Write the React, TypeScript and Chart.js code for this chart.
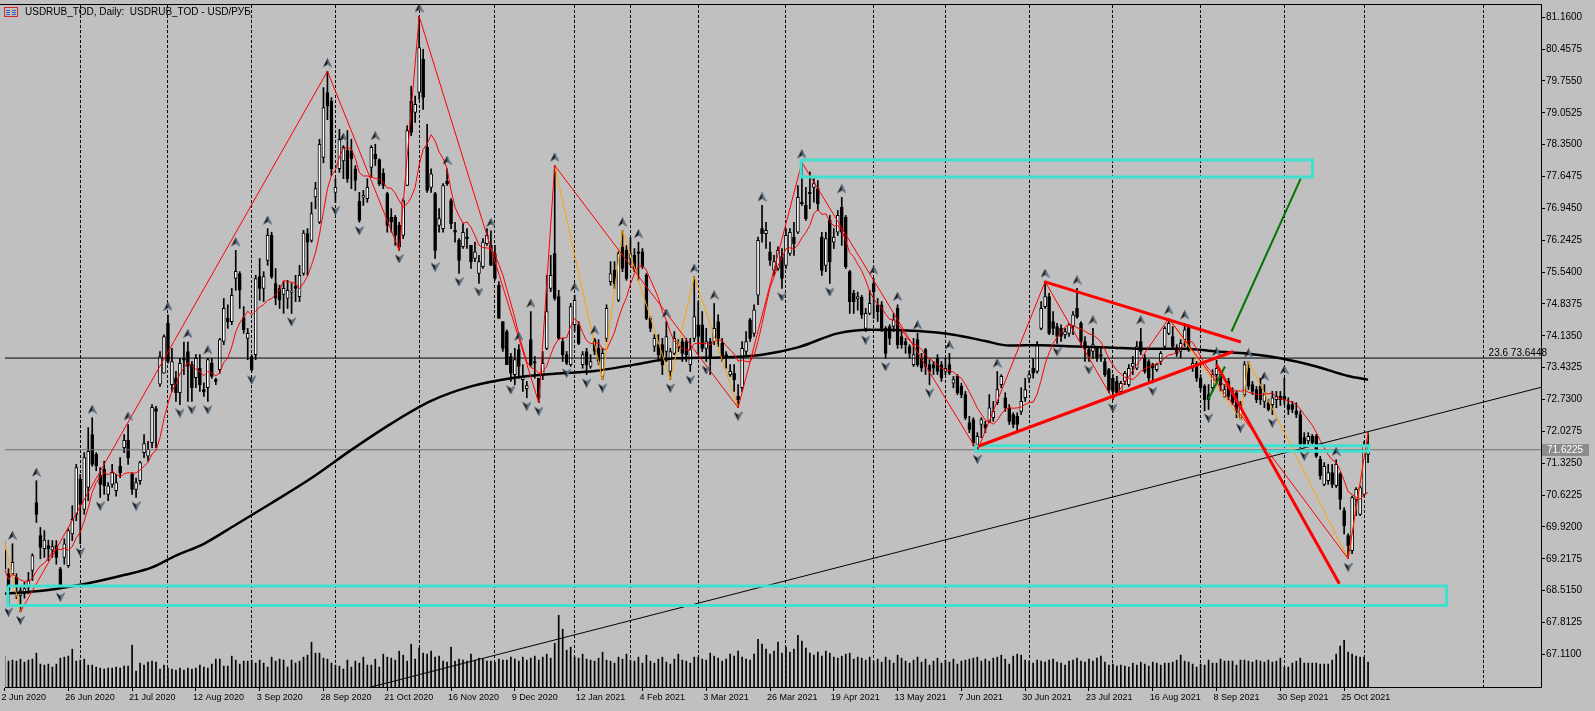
import React, { useEffect, useRef } from "react";
import { Chart, registerables } from "chart.js";
Chart.register(...registerables);

// ---------- data (bar index 0 = 2 Jun 2020) ----------
const opens = [
69.40,68.89,68.89,68.81,68.41,68.45,68.59,68.96,70.46,69.73,
69.44,69.51,69.41,69.51,69.00,69.25,69.07,69.77,70.20,70.97,
70.31,70.79,71.96,71.52,71.05,71.19,70.64,70.86,70.72,71.26,
71.67,71.83,71.08,70.75,70.94,71.56,71.48,71.78,72.53,73.07,
73.31,74.41,73.06,73.21,72.88,73.64,73.79,73.50,73.21,73.42,
72.95,72.99,73.53,73.17,73.39,74.01,74.52,74.45,75.40,75.51,
74.54,74.08,73.68,73.72,75.44,75.18,75.80,76.35,75.29,75.18,
75.05,74.96,75.10,75.23,75.00,75.51,76.39,76.24,77.20,76.64,
78.07,79.50,79.31,77.30,77.82,77.99,78.22,78.22,77.82,77.10,
77.19,77.16,77.85,78.14,78.02,77.72,77.27,76.75,76.75,76.57,
76.35,77.45,79.31,79.06,79.50,80.23,78.29,77.41,77.27,76.57,
76.50,77.54,77.12,76.46,76.24,76.10,76.32,76.13,75.84,75.51,
75.66,76.17,76.13,75.95,75.25,74.45,74.23,73.68,73.28,73.83,
73.17,72.97,74.05,73.57,73.20,73.28,73.86,75.18,75.95,75.00,
74.01,73.72,73.50,74.38,74.38,73.50,73.79,73.46,74.05,73.86,
73.24,74.08,75.33,75.58,74.92,76.09,76.02,75.84,75.91,75.99,
75.99,75.47,74.52,73.90,73.94,73.94,73.79,73.35,73.75,73.90,
74.01,74.01,73.50,74.08,74.38,74.38,73.86,74.01,74.01,74.45,
73.97,73.72,73.28,73.31,72.80,72.99,73.79,74.49,74.19,75.03,
76.50,76.39,75.99,75.58,75.62,75.88,75.69,75.95,76.31,76.42,
77.08,77.01,77.30,77.41,77.38,76.31,75.69,76.68,76.20,76.42,
76.97,76.75,75.55,75.07,74.95,74.99,74.30,74.63,75.29,74.82,
74.82,74.30,74.34,74.34,74.74,74.12,74.01,73.90,73.50,74.05,
73.64,73.83,73.50,73.50,73.64,73.50,73.35,73.50,73.09,73.24,
73.02,72.84,72.22,72.29,71.74,72.18,72.18,72.25,72.33,72.66,
73.06,72.77,72.55,72.40,72.36,72.47,72.77,73.20,73.42,73.35,
74.30,74.78,75.00,74.45,74.34,74.30,74.16,74.19,74.34,74.74,
74.41,74.01,73.83,73.79,73.86,73.72,73.57,73.39,73.20,73.13,
72.91,73.13,73.06,73.46,73.42,74.01,73.65,73.57,73.50,73.39,
73.57,73.90,74.19,74.12,73.86,73.79,74.05,74.34,73.46,73.53,
73.20,73.02,72.84,72.99,73.28,73.28,72.80,73.13,72.91,72.88,
72.33,72.84,73.42,73.06,72.95,73.02,72.69,72.66,72.62,72.73,
72.80,72.80,72.62,72.62,72.48,72.40,71.89,71.82,71.92,71.92,
71.41,70.86,70.94,71.12,70.83,71.08,70.28,69.73,69.40,70.53,
70.20,70.64,71.52];

const highs = [
69.60,69.00,69.55,68.89,68.63,68.70,68.92,69.33,70.94,69.91,
69.84,69.63,69.62,69.62,69.03,69.66,69.88,70.39,71.30,71.08,
71.56,72.11,72.33,71.56,71.23,71.37,70.90,71.30,71.08,71.45,
71.96,72.18,71.12,71.00,71.37,71.96,71.81,72.62,72.58,73.79,
74.16,74.60,73.86,73.35,73.64,74.00,74.00,73.57,73.72,73.72,
73.10,73.64,73.64,73.20,74.08,74.96,74.82,75.18,76.02,75.55,
74.78,74.30,73.72,75.47,75.84,75.55,76.50,76.42,75.62,75.25,
75.33,75.36,75.29,75.47,75.69,76.46,76.50,77.08,77.52,78.47,
79.61,79.97,79.39,77.60,78.69,78.33,78.66,78.47,77.89,77.30,
77.34,77.60,78.33,78.36,78.04,77.82,77.30,76.94,76.79,76.64,
77.16,78.77,79.64,79.42,81.18,80.45,78.80,77.82,77.30,76.94,
77.49,77.82,77.16,76.64,76.28,76.61,76.50,76.13,76.20,75.91,
76.28,76.50,76.45,76.13,75.33,74.45,74.27,73.75,73.86,73.94,
73.50,73.13,74.67,73.68,73.20,73.79,75.47,75.91,77.89,75.14,
74.08,73.79,74.85,75.03,74.45,73.79,73.86,73.72,74.08,74.05,
73.86,74.82,75.77,75.77,75.99,76.46,76.13,76.30,76.06,76.20,
76.06,75.51,74.56,74.16,74.16,74.08,74.45,73.86,74.23,74.05,
74.08,74.08,74.08,75.44,74.89,74.67,74.30,74.08,74.85,74.60,
74.08,73.79,73.50,73.50,73.06,74.01,74.23,74.52,74.82,76.31,
77.01,76.64,76.20,75.91,76.10,76.06,76.50,76.50,76.64,77.45,
77.96,77.41,77.75,77.60,77.56,76.42,76.42,76.79,76.50,76.90,
77.19,76.79,75.58,75.14,75.10,75.03,74.74,75.14,75.40,74.96,
74.89,74.34,74.38,74.63,74.82,74.23,74.08,73.94,74.08,74.19,
73.75,73.86,73.61,73.57,73.72,73.57,73.64,73.75,73.24,73.28,
73.09,72.91,72.36,72.33,72.00,72.33,72.25,72.84,72.69,73.35,
73.28,72.88,72.62,72.44,72.44,72.99,73.20,73.35,73.64,74.01,
74.89,75.33,75.07,74.67,74.41,74.38,74.30,74.41,74.67,75.18,
74.45,74.12,73.90,74.30,73.90,73.86,73.64,73.42,73.28,73.24,
73.13,73.35,73.50,73.68,74.01,74.30,73.72,73.61,73.53,73.53,
73.79,74.34,74.52,74.34,73.94,74.05,74.41,74.38,73.64,73.57,
73.28,73.06,73.06,73.39,73.60,73.35,73.06,73.20,72.99,72.91,
72.69,73.57,73.57,73.13,73.02,73.20,73.06,72.73,72.91,72.91,
72.91,73.20,72.77,72.69,72.66,72.48,72.00,72.00,71.96,71.96,
71.48,71.34,71.30,71.30,71.40,71.12,70.35,69.77,70.60,70.79,
70.83,71.81,72.00];

const lows = [
68.95,68.23,68.85,68.34,68.05,68.35,68.45,68.74,70.02,69.22,
69.25,69.18,69.25,69.10,68.56,69.10,69.03,69.62,70.06,69.55,
70.20,70.50,71.26,71.16,70.57,70.64,70.50,70.79,70.60,71.01,
71.56,71.30,70.64,70.57,70.86,71.45,71.37,71.67,71.67,73.02,
73.31,73.53,72.91,72.69,72.62,73.28,72.69,72.69,72.99,72.91,
72.80,72.69,73.20,73.06,73.31,73.94,74.30,74.38,75.14,74.74,
74.19,73.61,73.35,73.61,74.92,74.89,75.69,75.40,74.82,74.74,
74.63,74.74,74.63,74.89,74.89,75.47,75.47,76.20,76.94,76.61,
77.95,78.90,77.67,77.08,77.74,77.60,77.52,77.38,77.34,76.64,
77.01,77.08,77.63,77.89,77.45,77.38,76.42,76.42,76.13,76.02,
76.28,77.45,78.55,78.84,79.35,79.13,77.30,77.30,75.84,76.42,
76.42,77.45,76.50,76.20,75.51,76.06,76.06,75.62,75.77,75.29,
75.62,76.13,75.69,75.36,74.52,73.79,73.50,73.13,73.06,73.20,
72.91,72.77,73.46,73.20,72.66,73.17,73.83,75.11,74.92,74.05,
73.57,73.50,73.46,74.23,73.94,73.42,73.28,73.42,73.72,73.50,
73.17,74.01,75.25,75.18,74.89,75.55,75.36,75.69,75.55,75.36,
75.62,74.49,74.23,73.79,73.57,73.28,73.57,73.17,73.72,73.79,
73.57,73.57,73.35,74.01,73.72,73.79,73.57,73.28,73.94,73.90,
73.57,73.42,73.24,72.91,72.55,72.91,73.72,74.01,74.12,74.82,
76.20,76.06,75.69,75.47,75.58,75.18,75.62,75.91,75.91,76.39,
77.01,76.68,76.94,77.08,76.90,75.47,75.55,75.29,76.06,76.35,
76.13,75.62,74.63,74.63,74.70,74.52,74.23,74.60,74.52,74.45,
74.23,73.64,73.94,74.23,73.86,73.86,73.75,73.64,73.46,73.46,
73.35,73.28,73.06,73.28,73.28,73.13,73.28,73.28,72.99,72.84,
72.77,72.29,72.00,71.71,71.60,71.89,72.00,72.22,72.25,72.62,
72.99,72.47,72.18,72.11,72.04,72.40,72.69,73.10,73.20,73.31,
74.27,74.74,74.16,74.16,73.97,74.01,74.08,74.12,74.16,74.52,
73.94,73.57,73.57,73.64,73.57,73.57,73.24,72.88,72.73,72.84,
72.84,73.06,73.02,73.28,73.39,73.72,73.31,73.13,73.10,73.35,
73.50,73.86,74.16,73.86,73.68,73.65,73.90,73.79,73.35,73.13,
72.91,72.48,72.51,72.91,73.13,72.91,72.77,72.73,72.62,72.33,
72.29,72.80,72.95,72.84,72.66,72.62,72.55,72.48,72.40,72.55,
72.60,72.62,72.40,72.44,72.33,71.67,71.67,71.74,71.74,71.45,
70.97,70.83,70.86,70.79,70.79,70.31,69.77,69.22,69.33,70.17,
70.17,70.60,71.34];

const closes = [
69.00,68.52,69.14,68.59,68.52,68.56,68.74,69.29,70.20,69.47,
69.63,69.44,69.49,69.25,68.59,69.55,69.84,70.09,71.23,70.42,
71.45,71.59,71.30,71.27,70.86,70.83,70.83,71.12,70.90,71.12,
71.83,71.45,70.75,70.90,71.34,71.76,71.63,72.56,72.47,73.68,
74.12,73.57,73.57,72.88,73.53,73.60,73.46,72.99,73.64,73.06,
72.90,73.61,73.24,73.13,74.05,74.74,74.45,75.03,75.56,75.14,
74.27,74.19,73.39,75.40,75.18,75.44,76.35,75.44,74.96,74.92,
75.18,75.14,75.12,75.18,75.47,76.40,76.20,76.83,77.38,78.36,
79.17,79.20,77.82,77.41,78.47,78.29,77.60,78.04,77.56,76.68,
77.23,77.41,78.29,78.04,77.49,77.45,76.57,76.64,76.35,76.09,
77.12,78.66,78.62,79.24,80.49,79.39,77.34,77.71,76.02,76.72,
77.45,77.49,76.61,76.42,75.80,76.42,76.28,75.77,75.99,75.77,
76.20,76.35,75.69,75.40,74.52,73.86,73.50,73.31,73.61,73.46,
73.24,73.04,73.50,73.53,72.77,73.53,74.67,75.47,74.96,74.08,
73.72,73.53,74.78,74.92,73.97,73.72,73.50,73.57,73.79,73.57,
73.75,74.74,75.51,75.29,75.95,75.62,75.40,75.95,75.62,75.95,
75.66,74.52,74.30,74.08,73.72,73.50,74.12,73.79,74.08,73.86,
73.75,73.72,73.83,74.56,74.12,73.86,74.01,73.65,74.30,74.08,
73.65,73.68,73.35,73.17,72.73,73.86,74.01,74.08,74.71,76.24,
76.39,76.46,75.80,75.77,76.02,75.40,76.35,76.42,76.17,77.19,
77.05,76.72,77.27,77.49,77.05,75.58,76.28,75.77,76.31,76.79,
76.42,75.66,74.89,74.89,75.00,74.60,74.63,74.85,75.11,74.67,
74.30,73.75,74.08,74.49,73.94,73.94,73.94,73.75,73.72,73.50,
73.42,73.46,73.35,73.42,73.35,73.20,73.42,73.31,73.17,72.88,
72.84,72.33,72.07,71.78,71.92,72.29,72.11,72.55,72.47,72.95,
73.24,72.55,72.25,72.18,72.18,72.69,72.95,73.28,73.31,73.94,
74.74,75.00,74.19,74.30,74.12,74.12,74.23,74.38,74.60,74.56,
74.01,73.86,73.68,73.94,73.65,73.68,73.28,72.95,72.91,72.88,
73.09,73.31,73.42,73.53,73.90,73.79,73.35,73.20,73.42,73.50,
73.75,74.30,74.41,73.90,73.75,73.97,74.27,73.83,73.53,73.20,
72.99,72.73,72.73,73.28,73.42,73.06,72.95,72.80,72.66,72.51,
72.62,73.50,73.02,72.91,72.73,72.73,72.84,72.51,72.77,72.80,
72.73,72.73,72.51,72.51,72.40,71.74,71.74,71.92,71.78,71.48,
71.05,71.26,71.12,70.86,71.30,70.53,69.95,69.51,70.57,70.75,
70.79,71.70,71.62];

const volumes = [
31,26,27,26,28,25,27,28,34,23,22,23,20,23,29,30,31,38,26,
27,28,22,22,20,19,18,19,19,20,19,21,21,42,16,24,22,25,26,25,18,22,19,
18,17,19,17,19,18,19,22,20,19,23,28,28,21,21,31,27,23,26,26,27,
24,27,24,20,30,26,28,27,20,27,24,26,30,32,45,34,34,29,28,24,22,
21,18,27,20,26,24,30,22,22,28,20,33,30,29,27,36,32,26,43,28,39,34,
33,36,30,31,26,25,40,26,28,27,26,33,27,29,28,26,26,25,28,27,
27,30,28,26,30,27,29,31,27,30,33,29,44,72,58,37,40,
30,29,33,28,27,26,29,35,27,26,24,30,28,33,
27,26,30,24,32,26,24,28,30,25,23,28,33,27,26,24,30,
30,28,27,34,31,29,26,28,33,31,36,30,28,27,33,48,43,38,33,36,45,34,
40,35,38,52,46,39,34,32,35,31,36,34,30,29,31,33,34,28,30,29,27,30,
26,28,25,30,27,24,32,29,26,24,27,30,25,28,22,26,29,24,
27,25,28,23,26,27,28,29,30,26,28,26,29,30,32,28,23,31,33,32,27,
26,24,27,26,25,27,28,25,24,22,26,27,29,26,25,28,26,29,31,25,22,
23,21,22,21,20,24,22,25,23,21,25,24,22,24,24,25,27,32,26,25,23,20,
23,22,27,24,24,28,26,26,26,22,27,27,26,25,27,26,25,27,25,26,29,
20,20,24,26,29,24,24,24,24,23,23,23,27,33,41,47,35,33,31,30,30,25];

const dateTickIndex = [0,16,32,48,64,80,96,112,128,144,160,176,192,208,224,240,256,272,288,304,320,336];
const dateLabels = ["2 Jun 2020","26 Jun 2020","21 Jul 2020","12 Aug 2020","3 Sep 2020","28 Sep 2020","21 Oct 2020","16 Nov 2020","9 Dec 2020","12 Jan 2021","4 Feb 2021","3 Mar 2021","26 Mar 2021","19 Apr 2021","13 May 2021","7 Jun 2021","30 Jun 2021","23 Jul 2021","16 Aug 2021","8 Sep 2021","30 Sep 2021","25 Oct 2021"];
const monthGridIndex = [19,41,62,83,104,123,143,157,174,196,218,236,257,278,300,321,341,371];
const priceTicks = [81.16,80.4575,79.755,79.0525,78.35,77.6475,76.945,76.2425,75.54,74.8375,74.135,73.4325,72.73,72.0275,71.325,70.6225,69.92,69.2175,68.515,67.8125,67.11];

const upFractals = [2,8,22,31,41,46,51,58,66,81,85,93,104,111,122,129,132,138,143,148,155,159,166,173,178,190,200,210,218,224,229,237,249,261,269,273,285,292,296,304,312,316,321,334];
const downFractals = [1,4,14,19,24,33,44,47,51,62,72,83,89,99,108,114,119,127,131,134,141,146,150,167,172,176,184,195,207,216,221,232,244,264,272,278,288,302,310,318,326,337];

const redZigzag = [[4,68.05],[81,79.97],[99,76.02],[104,81.18],[134,72.66],[138,77.89],[184,72.55],[200,77.96],[244,71.60],[261,75.33],[278,72.73],[292,74.52],[337,69.22],[342,72.00]];
const orangeZigzagA = [[0,69.60],[4,68.05]];
const orangeZigzagB = [[138,77.89],[150,73.17],[155,76.46],[167,73.17],[173,75.44],[184,72.55]];
const orangeZigzagC = [[292,74.52],[310,72.29],[312,73.57],[337,69.22],[342,72.00]];

const slowMA = [[0,68.45],[10,68.52],[21,68.68],[30,68.86],[37,69.03],[43,69.29],[50,69.55],[58,69.97],[67,70.45],[77,71.0],[87,71.62],[97,72.2],[107,72.7],[117,73.02],[127,73.2],[138,73.3],[148,73.36],[158,73.5],[168,73.64],[180,73.66],[190,73.72],[199,73.88],[209,74.19],[217,74.27],[229,74.24],[238,74.16],[246,74.02],[252,73.92],[260,73.93],[269,73.9],[277,73.88],[285,73.85],[296,73.85],[304,73.79],[312,73.74],[320,73.64],[329,73.46],[337,73.25],[342,73.17]];
const fastMAPeriod = 8;

const fiboLevel = 73.6448;
const bidPrice = 71.6225;
const cyanRects = [[199.8,328.05,78.01,77.64],[243.6,342.2,71.71,71.59],[0.8,361.7,68.62,68.19]];
const redTrendlines = [[260.75,75.33,310.1,74.0],[244.2,71.7,308.2,73.79],[304,73.5,334.8,68.67]];
const greenTrendlines = [[307.75,74.23,325.1,77.6],[301.9,72.73,306.1,73.46]];
const blackTrendline = [86.5,66.27,385.375,73.0];

const title = "USDRUB_TOD, Daily:  USDRUB_TOD - USD/РУБ";
const FONT = '"Liberation Sans", Arial, sans-serif';
const X_MIN = 0.125, X_MAX = 385.375, Y_MIN = 66.392, Y_MAX = 81.43;

function makeArrow(up: boolean) {
  const c = document.createElement("canvas");
  c.width = 9; c.height = 26;
  const g = c.getContext("2d") as CanvasRenderingContext2D;
  if (!up) { g.translate(0, 26); g.scale(1, -1); }
  g.beginPath(); g.moveTo(4.5, 0); g.lineTo(9, 9); g.lineTo(4.5, 6); g.lineTo(0, 9); g.closePath();
  g.fillStyle = "#151515"; g.fill();
  g.beginPath(); g.moveTo(4.5, 0); g.lineTo(9, 9); g.lineTo(4.5, 6); g.closePath();
  g.fillStyle = "#5d7690"; g.fill();
  return c;
}

const overlay = {
  id: "overlay",
  beforeDraw(chart: any) {
    const ctx = chart.ctx;
    ctx.save(); ctx.fillStyle = "#c0c0c0"; ctx.fillRect(0, 0, chart.width, chart.height); ctx.restore();
  },
  afterDraw(chart: any) {
    const ctx = chart.ctx; const { top, right } = chart.chartArea; const ys = chart.scales.y;
    ctx.save();
    ctx.fillStyle = "#000"; ctx.fillRect(0, top - 1, right + 1, 1);
    ctx.strokeStyle = "#d42a2a"; ctx.lineWidth = 1; ctx.strokeRect(4.5, 7.5, 13, 9);
    ctx.fillStyle = "#2f5fbf";
    for (const yy of [10, 12, 14]) { ctx.fillRect(6, yy, 4, 1); ctx.fillRect(12, yy, 4, 1); }
    ctx.fillStyle = "#000"; ctx.font = "10px " + FONT; ctx.textAlign = "left"; ctx.textBaseline = "middle";
    ctx.fillText(title, 25, 12.5);
    const fy = ys.getPixelForValue(fiboLevel);
    ctx.font = "10px " + FONT; ctx.textAlign = "right"; ctx.textBaseline = "alphabetic";
    ctx.fillText("23.6 " + fiboLevel.toFixed(4), right + 6, fy - 2);
    const by = ys.getPixelForValue(bidPrice);
    ctx.fillStyle = "#8c8c8c"; ctx.fillRect(right + 1, Math.round(by) - 6, 47, 12);
    ctx.fillStyle = "#ffffff"; ctx.font = "10px " + FONT; ctx.textAlign = "left"; ctx.textBaseline = "middle";
    ctx.fillText(bidPrice.toFixed(4), right + 6, by + 0.5);
    ctx.restore();
  },
};

function lineDS(points: number[][], color: string, width: number, order: number, extra: any = {}) {
  return {
    type: "line", data: points.map(([x, y]) => ({ x, y })), borderColor: color, borderWidth: width,
    pointRadius: 0, fill: false, tension: 0, order, xAxisID: "x", yAxisID: "y", ...extra,
  };
}

export default function App() {
  const ref = useRef<HTMLCanvasElement>(null);
  useEffect(() => {
    const upImg = makeArrow(true), downImg = makeArrow(false);
    const n = closes.length;
    const bodies = closes.map((c, i) => ({ x: i, y: [opens[i], c] }));
    const wicks = closes.map((c, i) => ({ x: i, y: [Math.min(lows[i], opens[i], c), Math.max(highs[i], opens[i], c)] }));
    const fastMA = closes.map((_, i) => {
      const s = Math.max(0, i - fastMAPeriod + 1); let sum = 0;
      for (let j = s; j <= i; j++) sum += closes[j];
      return [i, sum / (i - s + 1)];
    });
    const datasets: any[] = [
      { type: "bar", data: volumes.slice(0, n).map((v, i) => ({ x: i, y: v })), backgroundColor: "#000", barThickness: 1, grouped: false, order: 100, xAxisID: "x", yAxisID: "yv" },
      { type: "bar", data: wicks, backgroundColor: "#000", barThickness: 1, grouped: false, minBarLength: 1, order: 90, xAxisID: "x", yAxisID: "y" },
      { type: "bar", data: bodies, backgroundColor: closes.map((c, i) => (c >= opens[i] ? "#ffffff" : "#000000")), borderColor: "#000", borderWidth: 1, borderSkipped: false, barThickness: 3, grouped: false, minBarLength: 1, order: 80, xAxisID: "x", yAxisID: "y" },
      lineDS([[X_MIN, bidPrice], [X_MAX, bidPrice]], "#707070", 1, 75),
      lineDS([[X_MIN, fiboLevel], [X_MAX, fiboLevel]], "#000", 1, 74),
      lineDS(slowMA, "#000", 2.5, 70, { cubicInterpolationMode: "monotone" }),
      lineDS(fastMA, "#ff0000", 1, 65),
      lineDS([[blackTrendline[0], blackTrendline[1]], [blackTrendline[2], blackTrendline[3]]], "#000", 1, 60),
      lineDS(orangeZigzagA, "#ffa500", 1, 51),
      lineDS(orangeZigzagB, "#ffa500", 1, 51),
      lineDS(orangeZigzagC, "#ffa500", 1, 51),
      lineDS(redZigzag, "#ff0000", 1, 50),
      ...cyanRects.map(([k1, k2, p1, p2]) => lineDS([[k1, p1], [k2, p1], [k2, p2], [k1, p2], [k1, p1]], "#40e0d0", 3, 40, { borderJoinStyle: "miter" })),
      ...redTrendlines.map(([a, b, c, d]) => lineDS([[a, b], [c, d]], "#ff0000", 3, 30)),
      ...greenTrendlines.map(([a, b, c, d]) => lineDS([[a, b], [c, d]], "#007800", 2, 30)),
      { type: "line", data: upFractals.map((k) => ({ x: k, y: highs[k] })), showLine: false, pointStyle: upImg, pointRadius: 4, order: 10, xAxisID: "x", yAxisID: "y" },
      { type: "line", data: downFractals.map((k) => ({ x: k, y: lows[k] })), showLine: false, pointStyle: downImg, pointRadius: 4, order: 10, xAxisID: "x", yAxisID: "y" },
    ];
    const chart = new Chart(ref.current as HTMLCanvasElement, {
      type: "bar",
      data: { datasets },
      plugins: [overlay],
      options: {
        responsive: false, devicePixelRatio: 1, animation: false, events: [],
        layout: { padding: { top: 2, left: 0, right: 0, bottom: 0 } },
        plugins: { legend: { display: false }, tooltip: { enabled: false } },
        scales: {
          x: {
            type: "linear", position: "bottom", min: X_MIN, max: X_MAX, offset: false,
            grid: { drawOnChartArea: false, drawTicks: true, tickLength: 4, color: "#000", tickColor: "#000", offset: false },
            border: { display: true, color: "#000", width: 1 },
            ticks: { autoSkip: false, maxRotation: 0, minRotation: 0, align: "start", padding: 1, labelOffset: -3, color: "#000", font: { family: FONT, size: 9 }, callback: (_v: any, i: number) => dateLabels[i] ?? "" },
            afterBuildTicks: (s: any) => { s.ticks = dateTickIndex.map((v) => ({ value: v })); },
            afterFit: (s: any) => { s.height = 24; s.paddingLeft = 0; s.paddingRight = 0; },
          },
          xg: {
            type: "linear", position: "top", min: X_MIN, max: X_MAX, offset: false,
            grid: { drawOnChartArea: true, drawTicks: false, color: "#000", lineWidth: 1, offset: false },
            border: { display: false, dash: [3, 2] },
            ticks: { display: false },
            afterBuildTicks: (s: any) => { s.ticks = monthGridIndex.map((v) => ({ value: v })); },
            afterFit: (s: any) => { s.height = 0; s.paddingLeft = 0; s.paddingRight = 0; },
          },
          y: {
            type: "linear", position: "right", min: Y_MIN, max: Y_MAX,
            grid: { drawOnChartArea: false, tickLength: 4, color: "#000", tickColor: "#000" },
            border: { display: true, color: "#000", width: 1 },
            ticks: { autoSkip: false, padding: 1, color: "#000", font: { family: FONT, size: 10 }, callback: (v: any) => Number(v).toFixed(4) },
            afterBuildTicks: (s: any) => { s.ticks = priceTicks.map((v) => ({ value: v })); },
            afterFit: (s: any) => { s.width = 54; s.paddingTop = 0; s.paddingBottom = 0; },
          },
          yv: { type: "linear", display: false, min: 0, max: 685 },
        },
      } as any,
    } as any);
    return () => chart.destroy();
  }, []);
  return (
    <div style={{ position: "fixed", left: 0, top: 0, width: 1595, height: 711, background: "#c0c0c0" }}>
      <canvas ref={ref} width={1595} height={711} style={{ display: "block", width: 1595, height: 711 }} />
    </div>
  );
}
